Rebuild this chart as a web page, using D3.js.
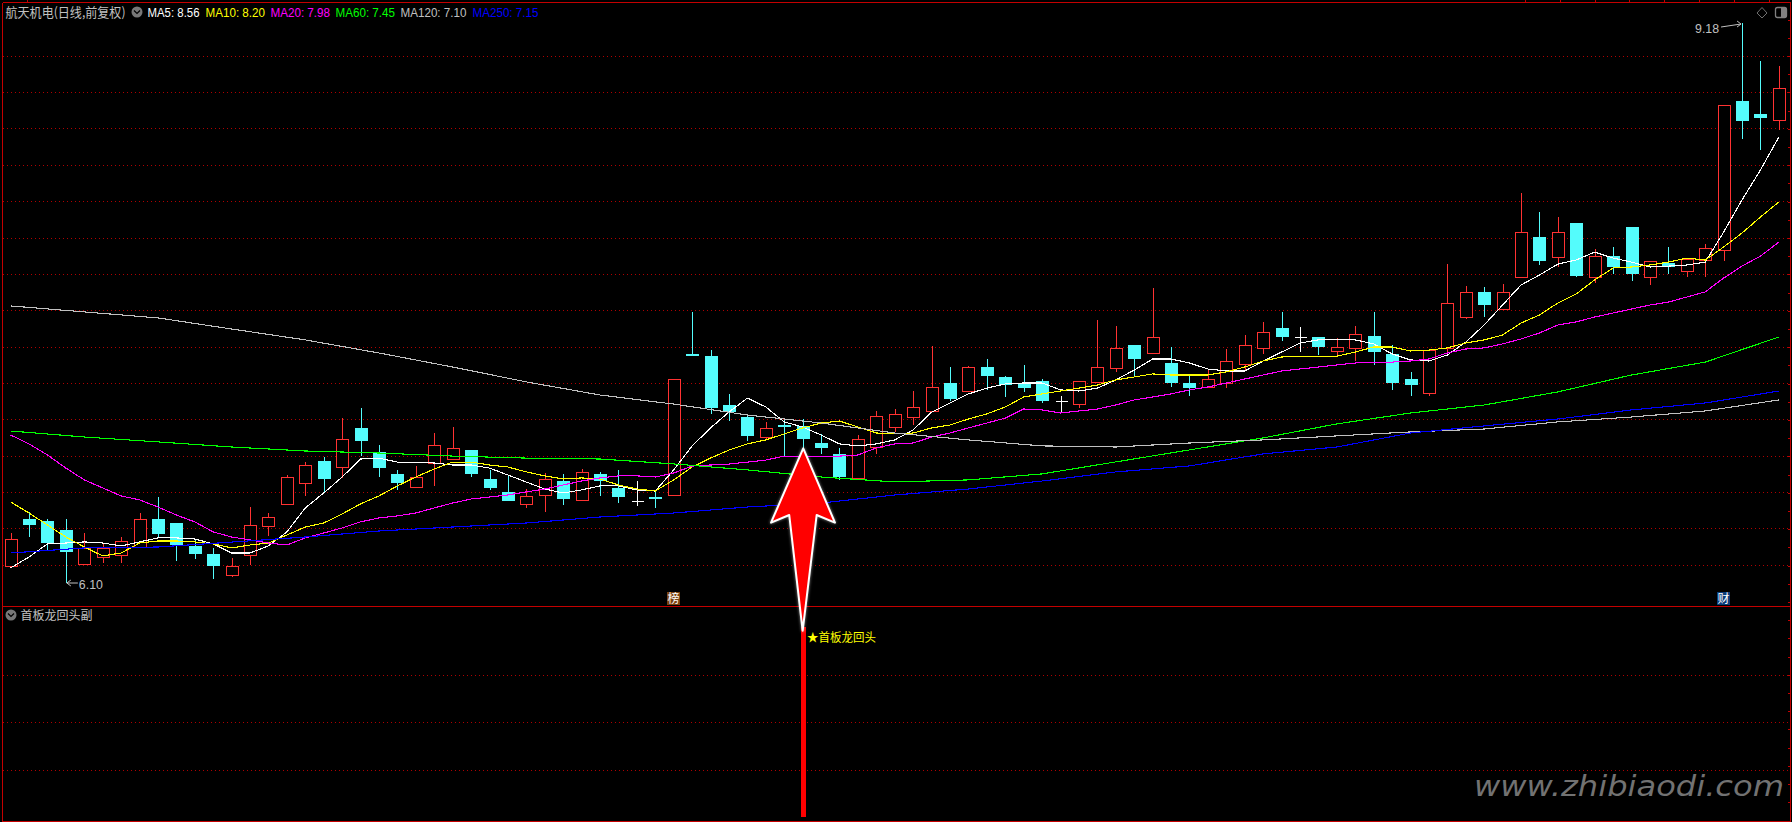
<!DOCTYPE html>
<html><head><meta charset="utf-8">
<script src="https://cdn.jsdelivr.net/npm/d3@7/dist/d3.min.js"></script>
<style>
html,body{margin:0;padding:0;background:#000;overflow:hidden}
svg{display:block}
text{font-family:"Liberation Sans",Arial,sans-serif}
.cjk{font-family:"Noto Sans CJK SC","Liberation Sans",sans-serif}
</style></head><body>
<svg id="c" width="1792" height="822"></svg>
<script>
const title = "航天机电(日线,前复权)";
const subTitle = "首板龙回头副";
const signalLabel = "★首板龙回头";
const watermark = "www.zhibiaodi.com";
const maNames = ["MA5","MA10","MA20","MA60","MA120","MA250"];
const maLast = [8.56,8.20,7.98,7.45,7.10,7.15];
const highLabel = 9.18, lowLabel = 6.10;
const priceTicks = [9.0,8.8,8.6,8.4,8.2,8.0,7.8,7.6,7.4,7.2,7.0,6.8,6.6,6.4,6.2];
const subTicks = [1,2,3];

const open = [6.193,6.452,6.441,6.392,6.205,6.243,6.254,6.298,6.452,6.430,
6.304,6.26,6.144,6.254,6.414,6.535,6.65,6.771,6.738,6.953,
6.82,6.7,6.628,6.76,6.782,6.831,6.672,6.601,6.535,6.584,
6.661,6.557,6.7,6.622,6.551,6.573,6.584,7.36,7.349,7.079,
7.013,6.903,6.969,6.964,6.87,6.81,6.678,6.848,6.958,7.013,
7.046,7.2,7.156,7.288,7.233,7.2,7.211,7.101,7.084,7.205,
7.283,7.409,7.365,7.31,7.2,7.178,7.2,7.304,7.393,7.503,
7.453,7.453,7.376,7.393,7.459,7.36,7.222,7.145,7.393,7.563,
7.701,7.607,7.783,8.003,7.893,8.08,7.783,7.898,8.058,7.783,
7.86,7.816,7.876,7.931,8.751,8.679,8.647];
const close = [6.342,6.419,6.32,6.271,6.293,6.293,6.331,6.452,6.37,6.309,
6.26,6.193,6.193,6.419,6.463,6.683,6.749,6.672,6.892,6.881,
6.732,6.65,6.683,6.859,6.842,6.7,6.622,6.551,6.579,6.672,
6.562,6.711,6.661,6.573,6.551,6.562,7.222,7.349,7.063,7.04,
6.909,6.953,6.964,6.892,6.843,6.683,6.892,7.019,7.03,7.068,
7.178,7.112,7.288,7.239,7.189,7.172,7.101,7.101,7.211,7.288,
7.393,7.332,7.453,7.2,7.172,7.222,7.321,7.409,7.481,7.453,
7.453,7.398,7.398,7.47,7.371,7.2,7.189,7.381,7.64,7.701,
7.629,7.701,8.031,7.871,8.031,7.789,7.898,7.838,7.8,7.871,
7.838,7.882,7.942,8.729,8.641,8.657,8.823];
const high = [6.375,6.491,6.452,6.452,6.375,6.315,6.353,6.485,6.573,6.43,
6.337,6.293,6.238,6.518,6.485,6.694,6.765,6.793,7.007,7.062,
6.859,6.722,6.744,6.925,6.958,6.831,6.722,6.689,6.617,6.705,
6.7,6.727,6.711,6.722,6.661,6.606,7.222,7.591,7.382,7.14,
7.03,6.986,6.997,7.002,6.92,6.843,6.914,7.046,7.057,7.156,
7.403,7.288,7.293,7.332,7.239,7.299,7.222,7.129,7.211,7.547,
7.514,7.409,7.723,7.398,7.239,7.271,7.387,7.464,7.536,7.591,
7.508,7.453,7.447,7.514,7.591,7.409,7.26,7.381,7.855,7.734,
7.728,7.745,8.245,8.14,8.113,8.08,7.937,7.948,8.058,7.871,
7.948,7.887,7.964,8.729,9.18,8.971,8.943];
const low = [6.182,6.353,6.282,6.10,6.205,6.21,6.21,6.298,6.353,6.221,
6.232,6.122,6.133,6.199,6.359,6.529,6.579,6.601,6.677,6.798,
6.683,6.612,6.623,6.634,6.776,6.683,6.612,6.551,6.513,6.491,
6.529,6.551,6.579,6.54,6.523,6.513,6.581,7.349,7.03,6.991,
6.881,6.887,6.798,6.843,6.81,6.667,6.678,6.81,6.931,6.969,
7.046,7.101,7.15,7.162,7.123,7.15,7.09,7.04,7.063,7.205,
7.261,7.239,7.36,7.178,7.129,7.178,7.172,7.266,7.36,7.431,
7.37,7.354,7.349,7.321,7.299,7.162,7.129,7.129,7.36,7.552,
7.563,7.602,7.777,7.849,7.838,7.783,7.75,7.8,7.761,7.739,
7.8,7.783,7.783,7.871,8.542,8.482,8.592];

const ma5 = [6.183,6.243,6.315,6.32,6.326,6.32,6.304,6.326,6.348,6.348,
6.342,6.315,6.265,6.265,6.304,6.381,6.513,6.595,6.683,6.782,
6.787,6.765,6.765,6.76,6.749,6.749,6.732,6.694,6.655,6.617,
6.595,6.612,6.634,6.634,6.612,6.606,6.722,6.854,6.953,7.04,
7.117,7.068,6.986,6.958,6.914,6.865,6.854,6.865,6.887,6.942,
7.04,7.09,7.14,7.172,7.195,7.2,7.2,7.162,7.156,7.172,
7.217,7.271,7.332,7.332,7.31,7.277,7.266,7.266,7.321,7.37,
7.42,7.437,7.437,7.437,7.415,7.36,7.327,7.321,7.354,7.425,
7.519,7.629,7.739,7.794,7.854,7.877,7.92,7.887,7.865,7.838,
7.843,7.849,7.865,8.03,8.207,8.372,8.553];
const ma10 = [6.546,6.485,6.419,6.353,6.298,6.249,6.265,6.32,6.331,6.331,
6.326,6.315,6.293,6.309,6.32,6.364,6.408,6.43,6.48,6.535,
6.579,6.634,6.683,6.727,6.765,6.765,6.749,6.738,6.711,6.689,
6.672,6.678,6.672,6.639,6.617,6.606,6.667,6.738,6.787,6.831,
6.865,6.887,6.92,6.953,6.98,6.991,6.958,6.925,6.92,6.925,
6.953,6.969,7.002,7.03,7.068,7.123,7.14,7.156,7.172,7.189,
7.217,7.233,7.25,7.244,7.244,7.244,7.261,7.288,7.321,7.343,
7.348,7.348,7.348,7.37,7.398,7.398,7.376,7.381,7.393,7.42,
7.437,7.464,7.53,7.574,7.64,7.69,7.767,7.833,7.838,7.849,
7.865,7.887,7.876,7.948,8.025,8.113,8.196];
const ma20 = [6.914,6.865,6.804,6.732,6.667,6.623,6.579,6.557,6.518,6.474,
6.436,6.381,6.353,6.337,6.32,6.309,6.348,6.375,6.403,6.436,
6.458,6.469,6.485,6.513,6.54,6.562,6.573,6.584,6.601,6.617,
6.639,6.661,6.678,6.689,6.689,6.683,6.705,6.743,6.749,6.754,
6.765,6.776,6.798,6.798,6.798,6.798,6.804,6.843,6.865,6.87,
6.903,6.925,6.953,6.98,7.007,7.057,7.052,7.035,7.046,7.057,
7.079,7.107,7.123,7.14,7.162,7.178,7.2,7.222,7.244,7.266,
7.277,7.288,7.299,7.31,7.315,7.315,7.321,7.332,7.365,7.387,
7.393,7.415,7.442,7.475,7.519,7.536,7.563,7.585,7.607,7.629,
7.645,7.673,7.701,7.777,7.843,7.898,7.975];
const slowBars = [0,4,8,12,16,20,24,28,32,36,40,44,48,52,56,60,64,68,72,76,80,84,88,92,96];
const ma60 = [6.936,6.903,6.876,6.848,6.826,6.815,6.798,6.787,6.782,6.755,6.722,6.683,6.656,6.667,6.7,6.766,6.832,6.898,6.975,7.035,7.079,7.151,7.244,7.315,7.453];
const ma120 = [7.624,7.591,7.558,7.497,7.437,7.365,7.288,7.206,7.134,7.084,7.024,6.98,6.925,6.887,6.854,6.848,6.87,6.887,6.909,6.931,6.947,6.986,7.013,7.046,7.107];
const ma250 = [6.265,6.293,6.298,6.325,6.353,6.386,6.408,6.43,6.463,6.485,6.518,6.54,6.584,6.617,6.661,6.711,6.744,6.81,6.848,6.925,6.964,7.002,7.052,7.09,7.156];

const signalBars = [43];
const signalValues = [4];
const badgeBars = [36,93];
const badgeTexts = ["榜","财"];

const COL = {red:"#ff3232",cyan:"#54fcfc",white:"#ffffff",grid:"#b00000",frame:"#c40000",gray:"#c0c0c0"};
const maColors = ["#ffffff","#ffff00","#ff00ff","#00ff00","#c0c0c0","#0000ff"];
const maTextX = [147.5,205.5,270.5,335.5,400.5,472.5];
const maTextW = [52,59.5,59.5,59.5,66,66];

const svg = d3.select("#c");
const x = d3.scaleLinear().domain([0,96]).range([10.6,1778.9]);
const y = d3.scaleLinear().domain([9.18,6.10]).range([23,583]);
const subY = d3.scaleLinear().domain([0,4]).range([817,627]);
const px = i => Math.round(x(i));
const py = v => Math.round(y(v));

// grid via axes
function grid(scale,ticks){
  const g = svg.append("g").attr("transform","translate(3,0)")
    .call(d3.axisRight(scale).tickValues(ticks).tickSize(1787).tickFormat(""));
  g.select(".domain").remove();
  g.selectAll("line").attr("stroke",COL.grid).attr("stroke-dasharray","1 3")
    .attr("shape-rendering","crispEdges");
}
grid(y,priceTicks);
grid(subY,subTicks);

// frame
const frame = svg.append("g").attr("stroke",COL.frame).attr("shape-rendering","crispEdges");
[[2.5,2.5,1790.5,2.5],[2.5,2.5,2.5,821.5],[1790.5,2.5,1790.5,821.5],[2.5,821.5,1790.5,821.5],[2.5,606.5,1790.5,606.5]]
 .forEach(l=>frame.append("line").attr("x1",l[0]).attr("y1",l[1]).attr("x2",l[2]).attr("y2",l[3]));
d3.range(0,8).forEach(k=>{const xx=1525.5+k*34.8;
  frame.append("line").attr("x1",xx).attr("x2",xx).attr("y1",0).attr("y2",2);});
frame.append("line").attr("x1",27.5).attr("x2",27.5).attr("y1",0).attr("y2",2);
d3.range(0,44).forEach(k=>{const yy=20+k*18.2;
  frame.append("line").attr("x1",1788).attr("x2",1790).attr("y1",yy).attr("y2",yy);});

// candles
const candles = open.map((o,i)=>({i,o,c:close[i],h:high[i],l:low[i]}));
const gC = svg.append("g").attr("shape-rendering","crispEdges");
candles.forEach(d=>{
  const cx = px(d.i);
  const up = d.c>d.o, dn = d.c<d.o;
  const col = up?COL.red:dn?COL.cyan:COL.white;
  const top = py(Math.max(d.o,d.c)), bot = py(Math.min(d.o,d.c));
  const hy = py(d.h), ly = py(d.l);
  if(hy<top) gC.append("line").attr("x1",cx+.5).attr("x2",cx+.5).attr("y1",hy).attr("y2",top).attr("stroke",col);
  if(ly>bot) gC.append("line").attr("x1",cx+.5).attr("x2",cx+.5).attr("y1",bot).attr("y2",ly).attr("stroke",col);
  if(up){
    gC.append("rect").attr("x",cx-5.5).attr("y",top+.5).attr("width",12).attr("height",bot-top)
      .attr("fill","#000").attr("stroke",col);
  } else if(dn){
    gC.append("rect").attr("x",cx-6).attr("y",top).attr("width",13).attr("height",Math.max(2,bot-top)).attr("fill",col);
  } else {
    gC.append("line").attr("x1",cx-5.5).attr("x2",cx+6.5).attr("y1",top+.5).attr("y2",top+.5).attr("stroke",col);
  }
});

// moving averages
const line = d3.line().x(d=>x(d[0])).y(d=>y(d[1]));
const allBars = d3.range(97);
const series = [[allBars,ma5],[allBars,ma10],[allBars,ma20],[slowBars,ma60],[slowBars,ma120],[slowBars,ma250]];
const gL = svg.append("g").attr("fill","none").attr("shape-rendering","crispEdges");
series.forEach((s,k)=>{
  gL.append("path").attr("d",line(s[0].map((b,j)=>[b,s[1][j]])))
    .attr("stroke",maColors[k]).attr("stroke-width",1.1);
});

// sub-pane signal
const gS = svg.append("g").attr("shape-rendering","crispEdges");
signalBars.forEach((b,j)=>{
  gS.append("rect").attr("x",Math.round(x(b))-2).attr("y",subY(signalValues[j])).attr("width",5)
    .attr("height",subY(0)-subY(signalValues[j])).attr("fill","#ff0000");
});

// arrow overlay, anchored at the signal bar
const defs = svg.append("defs");
const f = defs.append("filter").attr("id","glow").attr("x","-30%").attr("y","-10%").attr("width","160%").attr("height","120%");
f.append("feGaussianBlur").attr("in","SourceAlpha").attr("stdDeviation",1.4).attr("result","b");
f.append("feFlood").attr("flood-color","#ffffff").attr("flood-opacity",.55).attr("result","c");
f.append("feComposite").attr("in","c").attr("in2","b").attr("operator","in").attr("result","s");
const m = f.append("feMerge");m.append("feMergeNode").attr("in","s");m.append("feMergeNode").attr("in","SourceGraphic");
const arrowShape = [[0.6,0],[32.3,74.4],[14,66.7],[0,182.4],[-13.4,66.7],[-31.6,74.4]];
const ax = x(signalBars[0]);
svg.append("path").attr("d",d3.line()(arrowShape.map(p=>[ax+p[0],448.3+p[1]]))+"Z")
  .attr("fill","#ff0000").attr("stroke","#ffffff").attr("stroke-width",2).attr("stroke-linejoin","round")
  .attr("filter","url(#glow)");

svg.append("text").attr("class","cjk").attr("x",807).attr("y",641.5).attr("font-size",12).attr("fill","#ffff00")
  .attr("textLength",69).attr("lengthAdjust","spacingAndGlyphs").text(signalLabel);

// badges
const badgeFill = ["#7a4210","#0a3c78"];
badgeBars.forEach((b,j)=>{
  const bx = Math.round(x(b))-7;
  svg.append("rect").attr("x",bx).attr("y",592).attr("width",13).attr("height",13).attr("fill",badgeFill[j]);
  svg.append("text").attr("class","cjk").attr("x",bx+6.5).attr("y",603).attr("text-anchor","middle")
    .attr("font-size",12).attr("fill","#ffffff").text(badgeTexts[j]);
});

// titles
function chevron(cx,cy){
  svg.append("circle").attr("cx",cx).attr("cy",cy).attr("r",5.5).attr("fill","#787878");
  svg.append("path").attr("d",`M${cx-3},${cy-1.5}L${cx},${cy+1.5}L${cx+3},${cy-1.5}`).attr("fill","none").attr("stroke","#000").attr("stroke-width",1.2);
}
svg.append("text").attr("class","cjk").attr("x",5.5).attr("y",16.5).attr("font-size",13).attr("fill",COL.gray)
  .attr("textLength",120).attr("lengthAdjust","spacingAndGlyphs").text(title);
chevron(137,12);
maNames.forEach((n,k)=>{
  svg.append("text").attr("x",maTextX[k]).attr("y",16.5).attr("font-size",12.5).attr("fill",maColors[k])
    .attr("textLength",maTextW[k]).attr("lengthAdjust","spacingAndGlyphs").text(`${n}: ${maLast[k].toFixed(2)}`);
});
chevron(11,615);
svg.append("text").attr("class","cjk").attr("x",20.5).attr("y",619.5).attr("font-size",12).attr("fill",COL.gray).text(subTitle);

// high / low flags
const hiX = x(close.length-3), hiY = y(highLabel), loX = x(3), loY = y(lowLabel);
svg.append("text").attr("x",hiX-47).attr("y",hiY+9.5).attr("font-size",12).attr("fill",COL.gray)
  .attr("textLength",24).attr("lengthAdjust","spacingAndGlyphs").text(highLabel.toFixed(2));
svg.append("path").attr("d",`M${hiX-21},${hiY+4}L${hiX-1},${hiY+1}M${hiX-5},${hiY-2}L${hiX-1},${hiY+1}L${hiX-5},${hiY+4}`)
  .attr("fill","none").attr("stroke",COL.gray);
svg.append("text").attr("x",loX+13).attr("y",loY+5.5).attr("font-size",12).attr("fill",COL.gray)
  .attr("textLength",24).attr("lengthAdjust","spacingAndGlyphs").text(lowLabel.toFixed(2));
svg.append("path").attr("d",`M${loX+12},${loY}L${loX+1},${loY}M${loX+5},${loY-3}L${loX+1},${loY}L${loX+5},${loY+3}`)
  .attr("fill","none").attr("stroke",COL.gray);

// top-right icons
svg.append("path").attr("d","M1762,7.5L1767,13L1762,18L1757,13Z").attr("fill","none").attr("stroke","#707070");
svg.append("rect").attr("x",1775.5).attr("y",7.5).attr("width",11).attr("height",10).attr("rx",2).attr("fill","none").attr("stroke","#808080").attr("stroke-width",1.3);
svg.append("rect").attr("x",1781).attr("y",8).attr("width",5).attr("height",9).attr("fill","#808080");

// watermark
svg.append("text").attr("x",1474).attr("y",796).attr("font-size",28).attr("font-style","italic")
  .style("font-family",'"DejaVu Sans",sans-serif').attr("fill","#727272")
  .attr("textLength",310).attr("lengthAdjust","spacingAndGlyphs").text(watermark);
</script>
</body></html>
